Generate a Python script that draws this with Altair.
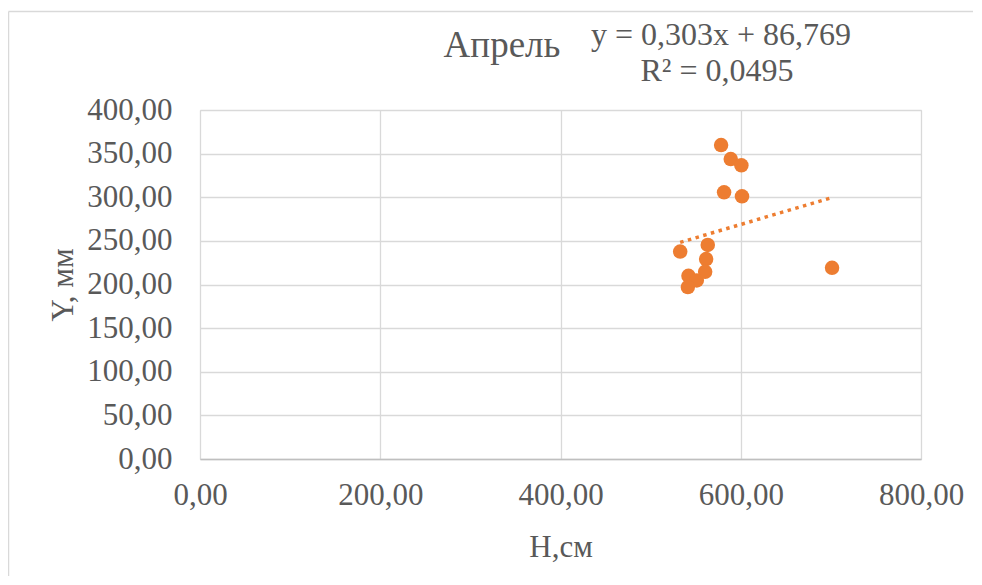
import altair as alt
import pandas as pd

# Data
h_cm = [578.2, 588.9, 600.7, 581.5, 601.4, 563.4, 532.8, 561.6, 560.5, 542.0, 551.2, 541.3, 701.3]
y_mm = [359.8, 343.8, 336.6, 305.7, 301.1, 245.4, 237.8, 229.1, 214.5, 210.0, 204.6, 197.0, 219.1]
x_ticks = [0, 200, 400, 600, 800]
y_ticks = [0, 50, 100, 150, 200, 250, 300, 350, 400]
chart_title = "Апрель"
eq_line1 = "y = 0,303x + 86,769"
eq_line2 = "R² = 0,0495"
x_title = "H,см"
y_title = "Y, мм"

df = pd.DataFrame({"H": h_cm, "Y": y_mm})

FONT = "Liberation Serif"
TXT = "#595959"
ORANGE = "#ED7D31"
label_expr = "replace(format(datum.value, '.2f'), '.', ',')"

x_enc = alt.X(
    "H:Q",
    scale=alt.Scale(domain=[0, 800], nice=False),
    axis=alt.Axis(
        values=x_ticks, labelExpr=label_expr, title=x_title,
        grid=True, ticks=False, tickSize=0, labelPadding=21, labelFlush=False,
        domain=True, domainColor="#bfbfbf", domainWidth=1.3,
        titleY=97, titleBaseline="alphabetic",
    ),
)
y_enc = alt.Y(
    "Y:Q",
    scale=alt.Scale(domain=[0, 400], nice=False),
    axis=alt.Axis(
        values=y_ticks, labelExpr=label_expr, title=y_title,
        grid=True, ticks=False, tickSize=0, labelPadding=28, labelFlush=False,
        domain=False, titleX=-128, titleBaseline="alphabetic",
    ),
)

base = alt.Chart(df)
points = base.mark_circle(size=210, color=ORANGE, opacity=1).encode(x=x_enc, y=y_enc)
trend = base.transform_regression("H", "Y").mark_line(
    color=ORANGE, strokeDash=[3.5, 4.5], strokeWidth=3.5
).encode(x="H:Q", y="Y:Q")

title_mark = alt.Chart(pd.DataFrame({"t": [chart_title]})).mark_text(
    font=FONT, fontSize=37, color=TXT, baseline="alphabetic", align="center"
).encode(text="t:N", x=alt.value(302), y=alt.value(-53))

eq1 = alt.Chart(pd.DataFrame({"t": [eq_line1]})).mark_text(
    font=FONT, fontSize=32, color=TXT, baseline="alphabetic", align="center"
).encode(text="t:N", x=alt.value(521), y=alt.value(-65))
eq2 = alt.Chart(pd.DataFrame({"t": [eq_line2]})).mark_text(
    font=FONT, fontSize=32, color=TXT, baseline="alphabetic", align="center"
).encode(text="t:N", x=alt.value(517), y=alt.value(-29))

frame_data = pd.DataFrame({"b": [1]})
border_top = alt.Chart(frame_data).mark_rule(color="#d9d9d9", strokeWidth=1.5).encode(
    x=alt.value(-191.5), x2=alt.value(1400), y=alt.value(-98.5)
)
border_left = alt.Chart(frame_data).mark_rule(color="#d9d9d9", strokeWidth=1.5).encode(
    x=alt.value(-191.5), y=alt.value(-98.5), y2=alt.value(1000)
)

chart = alt.layer(border_top, border_left, trend, points, title_mark, eq1, eq2).properties(
    width=721, height=349,
    autosize=alt.AutoSizeParams(type="none"),
    padding={"left": 192, "top": 102, "right": 52, "bottom": 117},
).configure_view(
    stroke="#d9d9d9", strokeWidth=1
).configure_axis(
    labelFont=FONT, labelFontSize=31, labelColor=TXT,
    titleFont=FONT, titleFontSize=31, titleColor=TXT, titleFontWeight="normal",
    gridColor="#d9d9d9", gridWidth=1.3,
)

chart.save("out.html", embed_options={"renderer": "svg", "actions": False})
